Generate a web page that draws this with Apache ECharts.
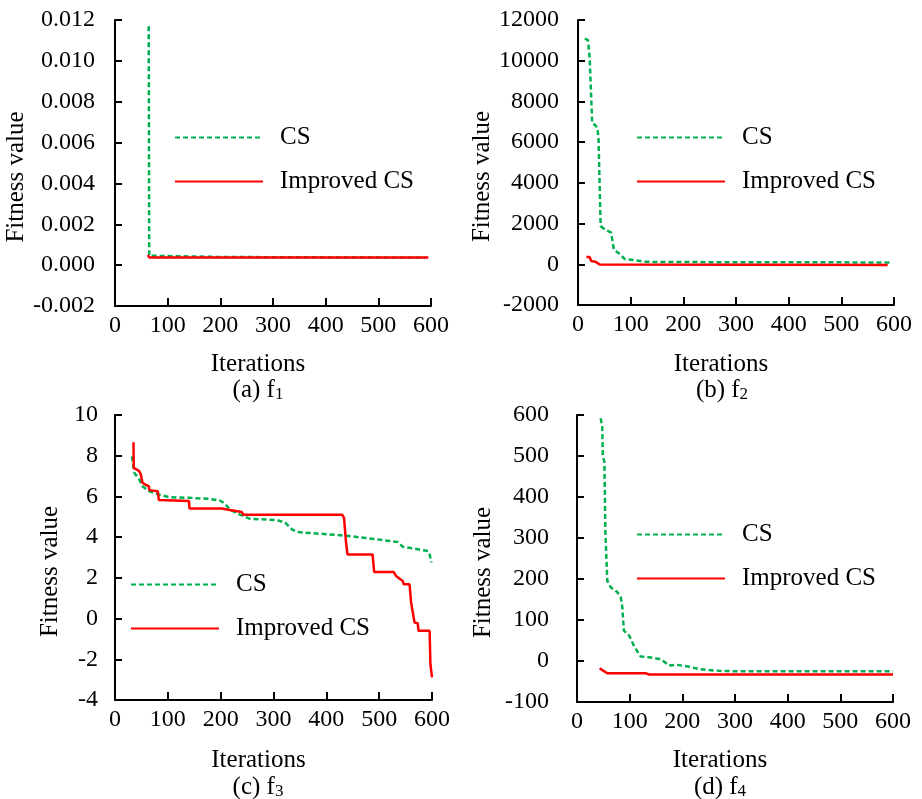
<!DOCTYPE html>
<html>
<head>
<meta charset="utf-8">
<script src="https://cdn.jsdelivr.net/npm/echarts@6/dist/echarts.min.js"></script>
<style>
html,body{margin:0;padding:0;background:#fff;}
#chart{width:922px;height:799px;}
</style>
</head>
<body>
<div id="chart"></div>
<script>
// ---- Data ----
const seriesNames = ['CS', 'Improved CS'];
const xTicks = [0, 100, 200, 300, 400, 500, 600];

// (a) f1
const aCsIter  = [64, 65, 200, 590];
const aCsVal   = [0.0117, 0.00046, 0.00040, 0.00036];
const aIcsIter = [62, 65, 595];
const aIcsVal  = [0.00049, 0.00038, 0.00038];

// (b) f2
const bCsIter  = [13, 19, 22, 25, 27, 32, 37, 39, 43, 51, 63, 68, 76, 89, 108, 127, 151, 592];
const bCsVal   = [11090, 11010, 10200, 8240, 6930, 6850, 6690, 6120, 1880, 1710, 1550, 730, 570, 250, 200, 130, 110, 90];
const bIcsIter = [16, 22, 25, 33, 41, 588];
const bIcsVal  = [360, 360, 160, 130, -10, -30];

// (c) f3
const cCsIter  = [32, 36.5, 46, 52, 64, 84, 103, 141, 179, 198.5, 208, 217, 236.5, 255.5, 306.5, 322, 335, 344.5, 433.5, 497, 535, 544.5, 592.5, 595.5, 599];
const cCsVal   = [7.97, 7.16, 6.83, 6.50, 6.26, 6.09, 5.96, 5.93, 5.88, 5.80, 5.65, 5.36, 5.11, 4.90, 4.84, 4.71, 4.38, 4.25, 4.08, 3.89, 3.76, 3.53, 3.32, 3.15, 2.75];
const cIcsIter = [35, 35.5, 46, 49, 52, 57.5, 64, 65, 81, 83, 140, 141, 202, 217, 240, 243, 430, 433.5, 437, 440, 487.5, 490.5, 527.5, 532, 544.5, 546.5, 557.5, 560.5, 564, 567, 573, 574.5, 595.5, 597, 599, 600];
const cIcsVal  = [8.66, 7.40, 7.24, 7.07, 6.67, 6.58, 6.50, 6.31, 6.26, 5.82, 5.78, 5.41, 5.41, 5.33, 5.23, 5.10, 5.10, 4.95, 3.81, 3.15, 3.15, 2.29, 2.29, 2.09, 1.85, 1.68, 1.68, 0.78, 0.70, -0.20, -0.23, -0.60, -0.60, -2.24, -2.32, -2.89];

// (d) f4
const dCsIter  = [45, 48, 49, 52, 54, 57.5, 64, 76.5, 83, 86, 89, 99, 108, 121, 137, 156, 165, 175, 188, 213, 232, 270, 302, 600];
const dCsVal   = [592, 571, 498, 486, 310, 196, 180, 168, 156, 131, 74, 62, 37, 11, 9, 5, -1, -11, -9, -14, -20, -24, -25, -25];
const dIcsIter = [43, 57.5, 130, 137, 600];
const dIcsVal  = [-18, -30, -30, -33, -33];

// y-axis ranges
const yMin = [-0.002, -2000, -4, -100];
const yMax = [0.012, 12000, 10, 600];
const yStep = [0.002, 2000, 2, 100];
const captions = [['a', '1'], ['b', '2'], ['c', '3'], ['d', '4']];

// ---- Layout ----
const FONT = "'Liberation Serif', 'Times New Roman', serif";
const grids = [
  {left: 115, top: 20, width: 316, height: 286},
  {left: 578, top: 20, width: 316, height: 285},
  {left: 115, top: 415, width: 317, height: 285},
  {left: 577, top: 415, width: 316, height: 287}
];
const yLabelMargin = [20, 19, 17, 28];
const yNameGap = [82, 82, 52, 81];
const xNameGap = [46, 47, 48, 46];
const legendPos = [
  {left: 174, top: 125},
  {left: 636, top: 125},
  {left: 130, top: 572},
  {left: 636, top: 522}
];
const captionPos = [[258, 378], [722, 378], [258, 775], [720, 775]];

function zip(xs, ys) { return xs.map((x, i) => [x, ys[i]]); }
const allData = [
  [zip(aCsIter, aCsVal), zip(aIcsIter, aIcsVal)],
  [zip(bCsIter, bCsVal), zip(bIcsIter, bIcsVal)],
  [zip(cCsIter, cCsVal), zip(cIcsIter, cIcsVal)],
  [zip(dCsIter, dCsVal), zip(dIcsIter, dIcsVal)]
];

const axisLineStyle = {color: '#000', width: 2};
const xAxis = [], yAxis = [], series = [], legend = [], graphic = [];
grids.forEach((g, i) => {
  xAxis.push({
    type: 'value', gridIndex: i, min: 0, max: 600, interval: 100,
    name: 'Iterations', nameLocation: 'middle', nameGap: xNameGap[i],
    nameTextStyle: {fontFamily: FONT, fontSize: 25, color: '#000', padding: [0, 30, 0, 0]},
    axisLine: {show: true, onZero: false, lineStyle: axisLineStyle},
    axisTick: {show: true, inside: true, length: 8, lineStyle: axisLineStyle},
    axisLabel: {fontFamily: FONT, fontSize: 24, color: '#000', margin: 8,
      formatter: v => String(v)},
    splitLine: {show: false}
  });
  const dec = i === 0 ? 3 : 0;
  yAxis.push({
    type: 'value', gridIndex: i, min: yMin[i], max: yMax[i], interval: yStep[i],
    name: 'Fitness value', nameLocation: 'middle', nameGap: yNameGap[i],
    nameTextStyle: {fontFamily: FONT, fontSize: 25, color: '#000', padding: [0, 28, 0, 0]},
    axisLine: {show: true, onZero: false, lineStyle: axisLineStyle},
    axisTick: {show: true, inside: true, length: 7, lineStyle: axisLineStyle},
    axisLabel: {fontFamily: FONT, fontSize: 24, color: '#000', margin: yLabelMargin[i],
      formatter: v => Number(v).toFixed(dec)},
    splitLine: {show: false}
  });
  series.push({
    name: seriesNames[0], type: 'line', xAxisIndex: i, yAxisIndex: i,
    data: allData[i][0], symbol: 'none', smooth: false,
    lineStyle: {color: '#00B050', width: 2.5, type: [5, 3]},
    itemStyle: {color: '#00B050'}, z: 2
  });
  series.push({
    name: seriesNames[1], type: 'line', xAxisIndex: i, yAxisIndex: i,
    data: allData[i][1], symbol: 'none', smooth: false,
    lineStyle: {color: '#FF0000', width: 2.5, type: 'solid'},
    itemStyle: {color: '#FF0000'}, z: 3
  });
  legend.push({
    data: seriesNames, orient: 'vertical', left: legendPos[i].left, top: legendPos[i].top,
    padding: 0, itemWidth: 88, itemHeight: 20, itemGap: 19, selectedMode: false,
    itemStyle: {opacity: 0, borderWidth: 0},
    textStyle: {fontFamily: FONT, fontSize: 25, color: '#000', padding: [0, 0, 0, 12]}
  });
  graphic.push({
    type: 'text', x: captionPos[i][0], y: captionPos[i][1],
    style: {
      text: '(' + captions[i][0] + ') f{s|' + captions[i][1] + '}',
      fontFamily: FONT, fontSize: 25, fill: '#000', align: 'center', verticalAlign: 'top',
      rich: {s: {fontFamily: FONT, fontSize: 17, lineHeight: 12, verticalAlign: 'bottom', fill: '#000'}}
    }
  });
});

const chart = echarts.init(document.getElementById('chart'), null, {renderer: 'canvas'});
chart.setOption({
  animation: false,
  backgroundColor: '#fff',
  grid: grids,
  xAxis, yAxis, series, legend, graphic
});
</script>
</body>
</html>
